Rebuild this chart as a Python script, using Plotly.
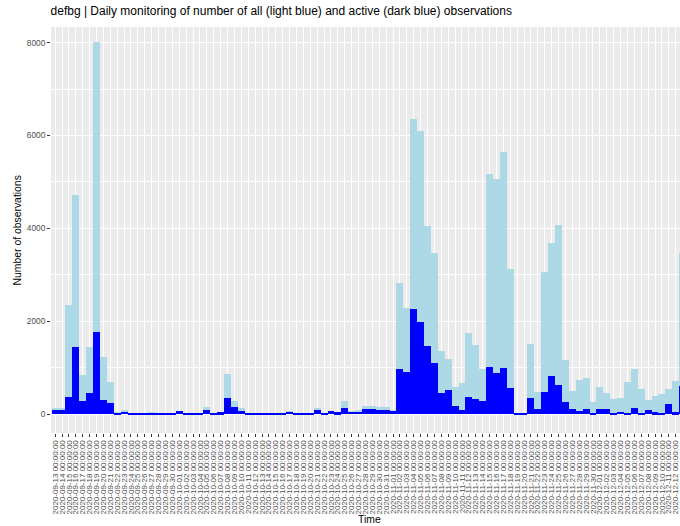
import pandas as pd
import plotly.graph_objects as go

dates = pd.date_range("2020-09-13", periods=92, freq="D")
date_labels = [d.strftime("%Y-%m-%d %H:%M:%S") for d in dates]

all_obs = [122, 122, 2350, 4720, 840, 1450, 8010, 1235, 700, 36,
           93, 15, 15, 15, 43, 15, 15, 25, 75, 15,
           15, 30, 144, 20, 40, 862, 280, 137, 15, 15,
           25, 15, 15, 15, 57, 15, 15, 15, 130, 15,
           65, 40, 280, 55, 80, 172, 172, 150, 144, 86,
           2817, 2285, 6353, 6101, 4053, 3471, 1366, 1179, 589, 676,
           1754, 1488, 963, 5175, 5060, 5641, 3126, 20, 20, 1500,
           475, 3060, 3695, 4065, 1165, 495, 733, 783, 265, 590,
           445, 323, 352, 690, 977, 533, 309, 395, 424, 533,
           711, 3465]
active_obs = [86, 86, 360, 1440, 290, 445, 1775, 300, 230, 22,
              50, 10, 10, 10, 22, 10, 10, 20, 70, 10,
              10, 29, 86, 14, 36, 345, 144, 65, 10, 10,
              22, 10, 10, 10, 43, 10, 10, 10, 86, 10,
              57, 36, 137, 50, 43, 108, 100, 86, 86, 72,
              963, 898, 2271, 1991, 1473, 1092, 460, 517, 172, 86,
              374, 323, 287, 1006, 876, 992, 553, 15, 15, 340,
              108, 480, 820, 625, 265, 108, 65, 108, 30, 100,
              100, 15, 50, 10, 130, 15, 80, 35, 15, 208,
              35, 603]

y_ticks = [0, 2000, 4000, 6000, 8000]

FONT = "Liberation Sans"
W, H = 680, 526
L, T, B = 50.56, 27, 93

fig = go.Figure()
fig.add_trace(go.Bar(x=date_labels, y=all_obs, marker=dict(color="#ADD8E6", line=dict(width=0)),
                     width=1.0, showlegend=False))
fig.add_trace(go.Bar(x=date_labels, y=active_obs, marker=dict(color="#0000FF", line=dict(width=0)),
                     width=1.0, showlegend=False))

fig.update_layout(
    width=W, height=H,
    margin=dict(l=L, r=0, t=T, b=B, pad=0),
    barmode="overlay",
    bargap=0,
    paper_bgcolor="white",
    plot_bgcolor="#EBEBEB",
    font=dict(family=FONT, color="#4D4D4D"),
    title=dict(text="defbg | Daily monitoring of number of all (light blue) and active (dark blue) observations",
               font=dict(family=FONT, size=12, color="black"),
               xref="container", x=L / W, xanchor="left",
               yref="container", y=1 - 11 / H, yanchor="middle"),
    xaxis=dict(type="category", range=[-0.6, 90.62],
               tickmode="array", tickvals=date_labels, ticktext=date_labels,
               tickangle=-90, tickfont=dict(family=FONT, size=8, color="#4D4D4D"),
               ticks="outside", ticklen=3, tickwidth=1, tickcolor="#333333",
               showgrid=True, gridcolor="white", gridwidth=1.2,
               showline=False, zeroline=False, fixedrange=True),
    yaxis=dict(range=[-409, 8338], tickmode="array", tickvals=y_ticks,
               ticktext=[str(v) for v in y_ticks],
               tickfont=dict(family=FONT, size=8.3, color="#4D4D4D"),
               ticks="outside", ticklen=3, tickwidth=1, tickcolor="#333333",
               showgrid=True, gridcolor="white", gridwidth=1.2,
               minor=dict(tickmode="array", tickvals=[1000, 3000, 5000, 7000],
                          showgrid=True, gridcolor="white", gridwidth=0.6, ticks=""),
               zeroline=False, showline=False),
    annotations=[
        dict(text="Number of observations", textangle=-90,
             xref="paper", x=(17 - L) / (W - L), xanchor="center",
             yref="paper", y=0.5, yanchor="middle", showarrow=False,
             font=dict(family=FONT, size=10.4, color="black")),
        dict(text="Time",
             xref="paper", x=(369 - L) / (W - L), xanchor="center",
             yref="paper", y=-(519 - (H - B)) / (H - T - B), yanchor="middle", showarrow=False,
             font=dict(family=FONT, size=10.4, color="black")),
    ],
)

fig.write_html("out.html")
